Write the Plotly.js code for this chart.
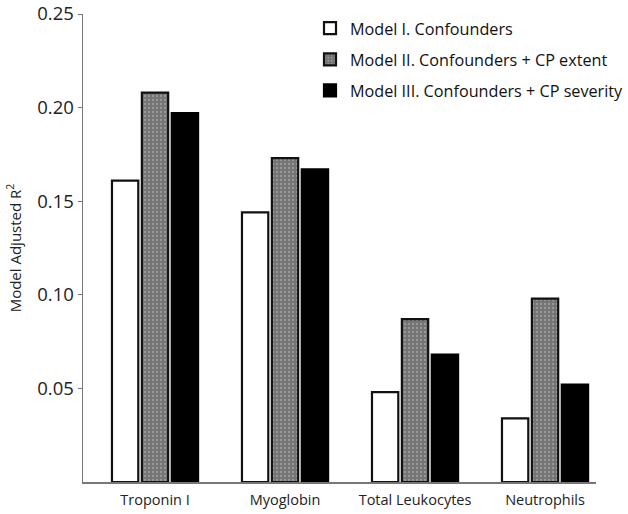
<!DOCTYPE html>
<html>
<head>
<meta charset="utf-8">
<script src="https://cdn.plot.ly/plotly-3.0.1.min.js"></script>
<style>html,body{margin:0;padding:0;background:#fff;}#chart{width:628px;height:514px;}</style>
</head>
<body>
<div id="chart"></div>
<script>
const categories = ["Troponin I", "Myoglobin", "Total Leukocytes", "Neutrophils"];
const seriesNames = ["Model I. Confounders", "Model II. Confounders + CP extent", "Model III. Confounders + CP severity"];
const model1 = [0.161, 0.144, 0.048, 0.034];
const model2 = [0.208, 0.173, 0.087, 0.098];
const model3 = [0.197, 0.167, 0.068, 0.052];
const yTickVals = [0.05, 0.10, 0.15, 0.20, 0.25];
const yTickText = ["0.05", "0.10", "0.15", "0.20", "0.25"];

const FONT = "Open Sans, Noto Sans, sans-serif";
const traces = [
  {type: "bar", x: categories, y: model1, name: seriesNames[0],
   marker: {color: "#ffffff", line: {color: "#111", width: 2.2}}},
  {type: "bar", x: categories, y: model2, name: seriesNames[1],
   marker: {color: "#7c7c7c", line: {color: "#111", width: 2.2},
            pattern: {shape: ".", bgcolor: "#747474", fgcolor: "#9a9a9a", size: 4, solidity: 0.25}}},
  {type: "bar", x: categories, y: model3, name: seriesNames[2],
   marker: {color: "#000000", line: {color: "#000", width: 2.2}}}
];

const layout = {
  width: 628, height: 514,
  margin: {l: 83, r: 32, t: 14, b: 32, autoexpand: false},
  paper_bgcolor: "#fff", plot_bgcolor: "#fff",
  font: {family: FONT, color: "#222"},
  barmode: "group", bargap: 0.31, bargroupgap: 0.12,
  showlegend: true,
  legend: {x: 0.4425, y: 1.006, xanchor: "left", yanchor: "top",
           font: {family: FONT, size: 16.2, color: "#111"},
           bgcolor: "rgba(0,0,0,0)", itemwidth: 30, tracegroupgap: 7,
           traceorder: "grouped"},
  xaxis: {range: [-0.554, 3.392], showline: true, linecolor: "#777", linewidth: 1.5,
          ticks: "", showgrid: false, zeroline: false, ticklabelstandoff: 4,
          tickfont: {family: FONT, size: 14.5, color: "#222"}},
  yaxis: {range: [0, 0.25], showline: true, linecolor: "#777", linewidth: 1.5,
          ticks: "outside", ticklen: 4, tickcolor: "#777", tickwidth: 1,
          tickvals: yTickVals, ticktext: yTickText, ticklabelstandoff: 0,
          showgrid: false, zeroline: false,
          tickfont: {family: FONT, size: 18.5, color: "#222"},
          title: {text: "Model Adjusted R<sup>2</sup>", font: {family: FONT, size: 15, color: "#222"}, standoff: 12}}
};
traces.forEach((t, i) => { t.legendgroup = "g" + i; });
Plotly.newPlot("chart", traces, layout, {displayModeBar: false, staticPlot: true});
</script>
</body>
</html>
